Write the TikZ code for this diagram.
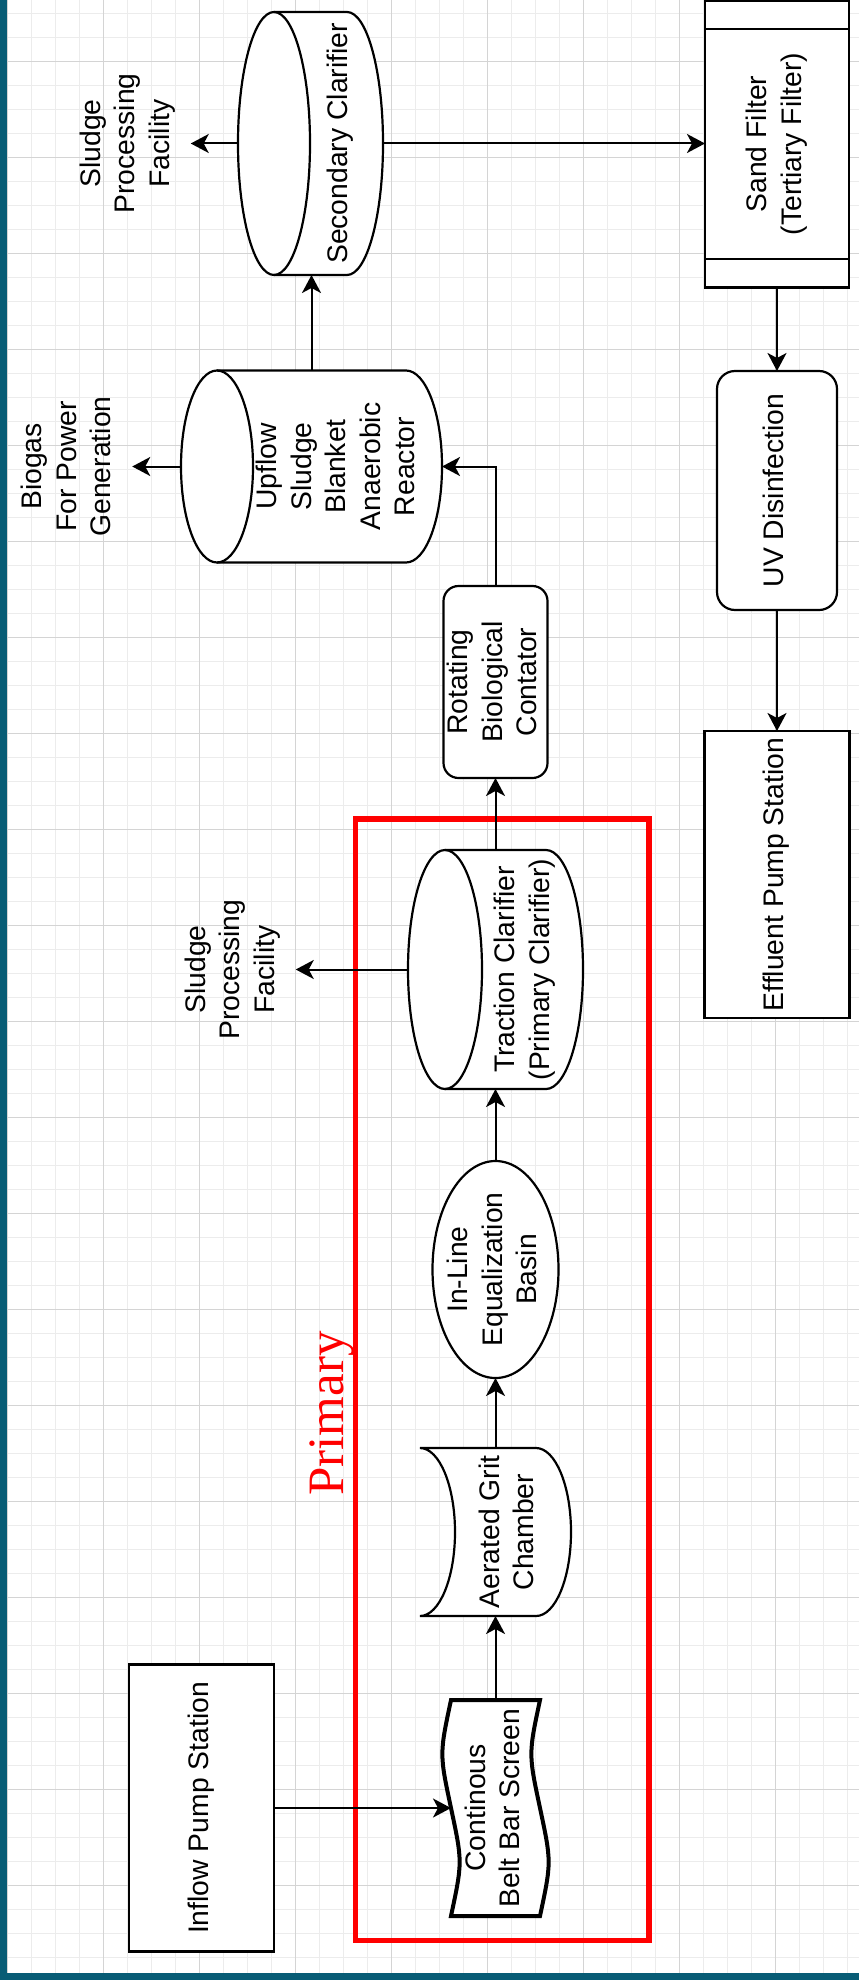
\documentclass[tikz,border=0pt]{standalone}
\usepackage{fontspec}
\setmainfont{Liberation Sans}
\newfontfamily\primfont{Liberation Serif}
\usepackage{graphicx}
\usetikzlibrary{arrows.meta,calc}
\pgfdeclarelayer{gridlayer}
\pgfdeclarelayer{bglayer}
\pgfsetlayers{gridlayer,bglayer,main}
\definecolor{bordteal}{RGB}{8,92,117}
\definecolor{gridminor}{RGB}{236,236,236}
\definecolor{gridmajor}{RGB}{212,212,212}
\definecolor{primred}{RGB}{255,0,0}
\newcommand{\rtxt}[2][0]{\hspace*{#1pt}\rotatebox{90}{\begin{tabular}{@{}c@{}}#2\end{tabular}}}
\newcommand{\hcyl}[3]{%
  \draw[shp] ($(#1.north west)+(#2,0)$) -- ($(#1.north east)+(-#2,0)$)
    arc[start angle=-90,end angle=90,x radius=#2,y radius=#3]
    -- ($(#1.south west)+(#2,0)$)
    arc[start angle=90,end angle=270,x radius=#2,y radius=#3] -- cycle;
  \draw[shp,fill=none] ($(#1.south west)+(#2,0)$)
    arc[start angle=90,end angle=-90,x radius=#2,y radius=#3];}
\tikzset{
  shp/.style={line width=2.2pt, draw=black, fill=white},
  conn/.style={line width=2pt, draw=black, -{Stealth[length=18pt,width=19pt,inset=5pt]}},
  blk/.style={inner sep=0pt, outer sep=0pt, font=\fontsize{28.3}{34.5}\selectfont},
  lbl/.style={inner sep=11pt, outer sep=0pt, font=\fontsize{28.3}{34.5}\selectfont},
}
\begin{document}
\begin{tikzpicture}[x=1pt,y=-1pt]
\useasboundingbox (0,0) rectangle (859,1980);
\begin{pgfonlayer}{gridlayer}
  \fill[white] (0,0) rectangle (859,1980);
  \foreach \k in {0,...,35} \draw[gridminor,line width=0.9pt] ({7+24*\k},0) -- ({7+24*\k},1973);
  \foreach \k in {0,...,81} \draw[gridminor,line width=0.9pt] (7,{13+24*\k}) -- (859,{13+24*\k});
  \foreach \k in {0,...,8} \draw[gridmajor,line width=0.9pt] ({7+96*\k},0) -- ({7+96*\k},1973);
  \foreach \k in {0,...,19} \draw[gridmajor,line width=0.9pt] (7,{61+96*\k}) -- (859,{61+96*\k});
\end{pgfonlayer}

% nodes
\node[blk,shp,minimum width=145pt,minimum height=287pt] (inflow) at (201.5,1808) {\rtxt{Inflow Pump Station}};
\node[blk,minimum width=107pt,minimum height=216pt] (scr) at (495.5,1808) {\rtxt{Continous\\Belt Bar Screen}};
\node[blk,minimum width=151pt,minimum height=168pt] (grit) at (495.5,1532) {\rtxt[28]{Aerated Grit\\Chamber}};
\node[blk,minimum width=126pt,minimum height=217pt] (eq) at (495.5,1269.5) {\rtxt{In-Line\\Equalization\\Basin}};
\node[blk,minimum width=175pt,minimum height=239pt] (tc) at (495.5,969.5) {\rtxt[59]{Traction Clarifier\\(Primary Clarifier)}};
\node[blk,shp,rounded corners=15pt,minimum width=104pt,minimum height=192pt] (rbc) at (495.5,682) {\rtxt{Rotating\\Biological\\Contator}};
\node[blk,minimum width=261pt,minimum height=192pt] (ua) at (311.5,466.5) {\rtxt[55]{Upflow\\Sludge\\Blanket\\Anaerobic\\Reactor}};
\node[blk,minimum width=145pt,minimum height=263pt] (sc) at (310.5,143.5) {\rtxt[61]{Secondary Clarifier}};
\node[blk,shp,minimum width=144pt,minimum height=287pt] (sf) at (777,144) {\rtxt{Sand Filter\\(Tertiary Filter)}};
\node[blk,shp,rounded corners=18pt,minimum width=120pt,minimum height=239pt] (uv) at (777,490.5) {\rtxt{UV Disinfection}};
\node[blk,shp,minimum width=145pt,minimum height=287pt] (ef) at (777,874.5) {\rtxt{Effluent Pump Station}};

\node[lbl] (sl1) at (128,143.5) {\rtxt{Sludge\\Processing\\Facility}};
\node[lbl] (bio) at (69.5,466.5) {\rtxt{Biogas\\For Power\\Generation}};
\node[lbl] (sl2) at (233,969.5) {\rtxt{Sludge\\Processing\\Facility}};
\node[rotate=90,anchor=base,inner sep=0pt,text=primred,font=\primfont\fontsize{51}{60}\selectfont] (prim) at (343,1413.5) {Primary};

% sand filter inner lines
\draw[line width=2.2pt] ($(sf.north west)+(0,28.5)$) -- ($(sf.north east)+(0,28.5)$);
\draw[line width=2.2pt] ($(sf.south west)+(0,-28.5)$) -- ($(sf.south east)+(0,-28.5)$);

\begin{pgfonlayer}{bglayer}
  \hcyl{sc}{36}{131.5}
  \hcyl{ua}{36}{96}
  \hcyl{tc}{37}{119.5}
  \draw[shp] (grit.north west) -- ($(grit.north east)+(-35,0)$)
    arc[start angle=-90,end angle=90,x radius=35,y radius=84]
    -- (grit.south west)
    arc[start angle=90,end angle=-90,x radius=35,y radius=84] -- cycle;
  \draw[shp] (eq.center) ellipse[x radius=63,y radius=108.5];
  \draw[shp,line width=4pt] ($(scr.north west)+(9,0)$) -- ($(scr.north east)+(-9,0)$)
    .. controls ($(scr.north east)+(-20.5,54)$) .. ($(scr.east)+(-9,0)$)
    .. controls ($(scr.south east)+(2.5,-54)$) .. ($(scr.south east)+(-9,0)$)
    -- ($(scr.south west)+(9,0)$)
    .. controls ($(scr.south west)+(20.5,-54)$) .. ($(scr.west)+(9,0)$)
    .. controls ($(scr.north west)+(-2.5,54)$) .. ($(scr.north west)+(9,0)$) -- cycle;
  \draw[primred,line width=5.5pt] (355.5,819) rectangle (649,1940.5);
\end{pgfonlayer}

% connectors
\draw[conn] (inflow.east) -- ($(scr.west)+(9,0)$);
\draw[conn] (scr.north) -- (grit.south);
\draw[conn] (grit.north) -- (eq.south);
\draw[conn] (eq.north) -- (tc.south);
\draw[conn] (tc.west) -- (sl2.east);
\draw[conn] (tc.north) -- (rbc.south);
\draw[conn] (rbc.north) |- (ua.east);
\draw[conn] (ua.west) -- (bio.east);
\draw[conn] (ua.north) -- (ua.north |- sc.south);
\draw[conn] (sc.west) -- (sl1.east);
\draw[conn] (sc.east) -- (sc.east -| sf.west);
\draw[conn] (sf.south) -- (uv.north);
\draw[conn] (uv.south) -- (uv.south |- ef.north);

% frame
\fill[bordteal] (0,0) rectangle (7,1980);
\fill[bordteal] (0,1973) rectangle (859,1980);
\end{tikzpicture}
\end{document}
